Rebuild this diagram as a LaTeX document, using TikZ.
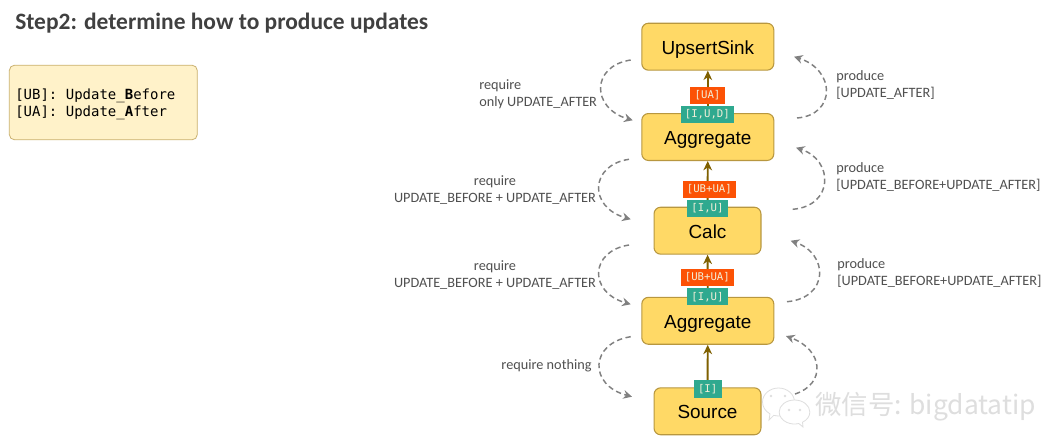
\documentclass[tikz,border=0pt]{standalone}
\usepackage{fontspec}
\setmainfont{Carlito}
\newfontfamily\boxfont{Liberation Sans}
\newfontfamily\codefont{DejaVu Sans Mono}
\newfontfamily\cjkfont{Noto Sans CJK SC}
\usetikzlibrary{arrows.meta,shapes.callouts}
\definecolor{boxfill}{HTML}{FFD966}
\definecolor{boxline}{HTML}{B8973F}
\definecolor{flowline}{HTML}{7F6000}
\definecolor{tagorange}{HTML}{FC5205}
\definecolor{tagteal}{HTML}{2FA98F}
\definecolor{tagtext}{HTML}{F2EFD8}
\definecolor{noteink}{HTML}{505050}
\definecolor{titleink}{HTML}{404040}
\definecolor{markgray}{HTML}{DEDEDE}
\tikzset{
  opbox/.style={draw=boxline,line width=0.8pt,fill=boxfill,rounded corners=5pt,inner sep=0pt,
    minimum height=35.2pt,text height=11pt,text depth=0pt,
    font=\boxfont\fontsize{14.2}{16}\selectfont,text=black},
  widebox/.style={opbox,minimum width=99pt},
  narrowbox/.style={opbox,minimum width=80.2pt},
  tagbox/.style={inner sep=0pt,minimum height=13pt,text=tagtext,
    font=\codefont\fontsize{8}{9}\selectfont},
  changetag/.style={tagbox,fill=tagorange},
  kindtag/.style={tagbox,fill=tagteal},
  flow/.style={draw=flowline,line width=1.4pt,-{Stealth[length=7pt,width=6.5pt,inset=2.2pt]}},
  trait/.style={draw=gray,line width=1.1pt,dash pattern=on 4pt off 2.6pt,
    -{Stealth[length=6.5pt,width=6.5pt,inset=2.2pt]}},
  note/.style={inner sep=0pt,text=noteink,font=\fontsize{10.7}{12.75}\selectfont},
  bubble/.style={ellipse callout,draw=markgray,line width=0.6pt,fill=white,inner sep=0pt},
  eye/.style={circle,fill=markgray,inner sep=0pt,minimum size=2pt},
}
\begin{document}
\begin{tikzpicture}[x=0.75pt,y=-0.75pt]
\useasboundingbox (0,0) rectangle (1060,443);
\fill[white] (0,0) rectangle (1060,443);

% heading and legend
\node[anchor=base west,inner sep=0pt,text=titleink,font=\bfseries\fontsize{17.6}{20}\selectfont]
  (title) at (15,29) {Step2: determine how to produce updates};
\node[draw=boxline!75,line width=0.6pt,fill=boxfill!35,rounded corners=4pt,minimum width=141pt,
  minimum height=56pt,inner sep=0pt] (legend) at (103.3,102.5) {};
\node[anchor=west,inner sep=0pt,align=left,font=\codefont\fontsize{10.5}{12.75}\selectfont,text=black]
  (legendtext) at (15,104) {[UB]: Update\_\textbf{B}efore\\{}[UA]: Update\_\textbf{A}fter};

% operators, bottom to top
\node[narrowbox] (source) at (707.5,411.3) {Source};
\node[widebox] (aggB) at (707.8,320.8) {Aggregate};
\node[narrowbox] (calc) at (707.5,230.7) {Calc};
\node[widebox] (aggA) at (707.8,137) {Aggregate};
\node[widebox] (sink) at (707.8,46.7) {UpsertSink};

% data flow
\draw[flow] (source) -- (aggB);
\draw[flow] (aggB) -- (calc);
\draw[flow] (calc) -- (aggA);
\draw[flow] (aggA) -- (sink);

% changelog tags on the flow lines
\node[changetag,minimum width=25.8pt] (tagUA) at (707.5,95.3) {[UA]};
\node[kindtag,minimum width=40pt] (tagIUD) at (707.3,114.3) {[I,U,D]};
\node[changetag,minimum width=40pt] (tagUBUAa) at (709.3,189.5) {[UB+UA]};
\node[kindtag,minimum width=30.3pt] (tagIUa) at (707.5,208.2) {[I,U]};
\node[changetag,minimum width=40pt] (tagUBUAb) at (707.3,277.5) {[UB+UA]};
\node[kindtag,minimum width=30.3pt] (tagIUb) at (707.5,296.7) {[I,U]};
\node[kindtag,minimum width=21pt] (tagI) at (707.7,389) {[I]};

% required traits on the left
\coordinate (reqAs) at (630.7,60);   \coordinate (reqAe) at (632.7,120.3);
\coordinate (reqBs) at (629,159.3);  \coordinate (reqBe) at (630.7,219.3);
\coordinate (reqCs) at (629,245);    \coordinate (reqCe) at (630.7,304.3);
\coordinate (reqDs) at (630.7,336.7);\coordinate (reqDe) at (632,396.7);
\draw[trait] (reqAs) .. controls (591,66) and (591,108) .. (reqAe);
\draw[trait] (reqBs) .. controls (590,165) and (588,207) .. (reqBe);
\draw[trait] (reqCs) .. controls (590,251) and (588,292) .. (reqCe);
\draw[trait] (reqDs) .. controls (590,343) and (588,385) .. (reqDe);

% produced traits on the right
\coordinate (proAs) at (797,118);    \coordinate (proAe) at (794,56.7);
\coordinate (proBs) at (792.7,209.3);\coordinate (proBe) at (796,147.7);
\coordinate (proCs) at (787,301.7);  \coordinate (proCe) at (790.7,240.7);
\coordinate (proDs) at (795,394);    \coordinate (proDe) at (786,336);
\draw[trait] (proAs) .. controls (836,115) and (836,70) .. (proAe);
\draw[trait] (proBs) .. controls (834,206) and (834,160) .. (proBe);
\draw[trait] (proCs) .. controls (829,298) and (829,254) .. (proCe);
\draw[trait] (proDs) .. controls (826,384) and (824,350) .. (proDe);

% trait captions
\node[note,anchor=west,align=left] (capA) at (479,94.5) {require\\only UPDATE\_AFTER};
\node[note,align=center] (capB) at (495,190.5) {require\\UPDATE\_BEFORE + UPDATE\_AFTER};
\node[note,align=center] (capC) at (495,275.5) {require\\UPDATE\_BEFORE + UPDATE\_AFTER};
\node[note] (capD) at (546.5,365.5) {require nothing};
\node[note,anchor=west,align=left] (capE) at (836,85.5) {produce\\{}[UPDATE\_AFTER]};
\node[note,anchor=west,align=left] (capF) at (836,177.5) {produce\\{}[UPDATE\_BEFORE+UPDATE\_AFTER]};
\node[note,anchor=west,align=left] (capG) at (837,273.5) {produce\\{}[UPDATE\_BEFORE+UPDATE\_AFTER]};

% channel mark in the corner
\node[bubble,minimum width=24pt,minimum height=21pt,callout absolute pointer={(769,420)}] (bubbleL) at (778.5,402) {};
\node[bubble,minimum width=23pt,minimum height=18pt,callout absolute pointer={(803,427)}] (bubbleR) at (794.5,412) {};
\node[eye] (eyeA) at (771,396) {};
\node[eye] (eyeB) at (785,396) {};
\node[eye] (eyeC) at (789,410) {};
\node[eye] (eyeD) at (800,410) {};
\node[anchor=west,inner sep=0pt,text=markgray,font=\cjkfont\fontsize{19.8}{22}\selectfont]
  (mark) at (815,407) {微信号: bigdatatip};
\end{tikzpicture}
\end{document}
